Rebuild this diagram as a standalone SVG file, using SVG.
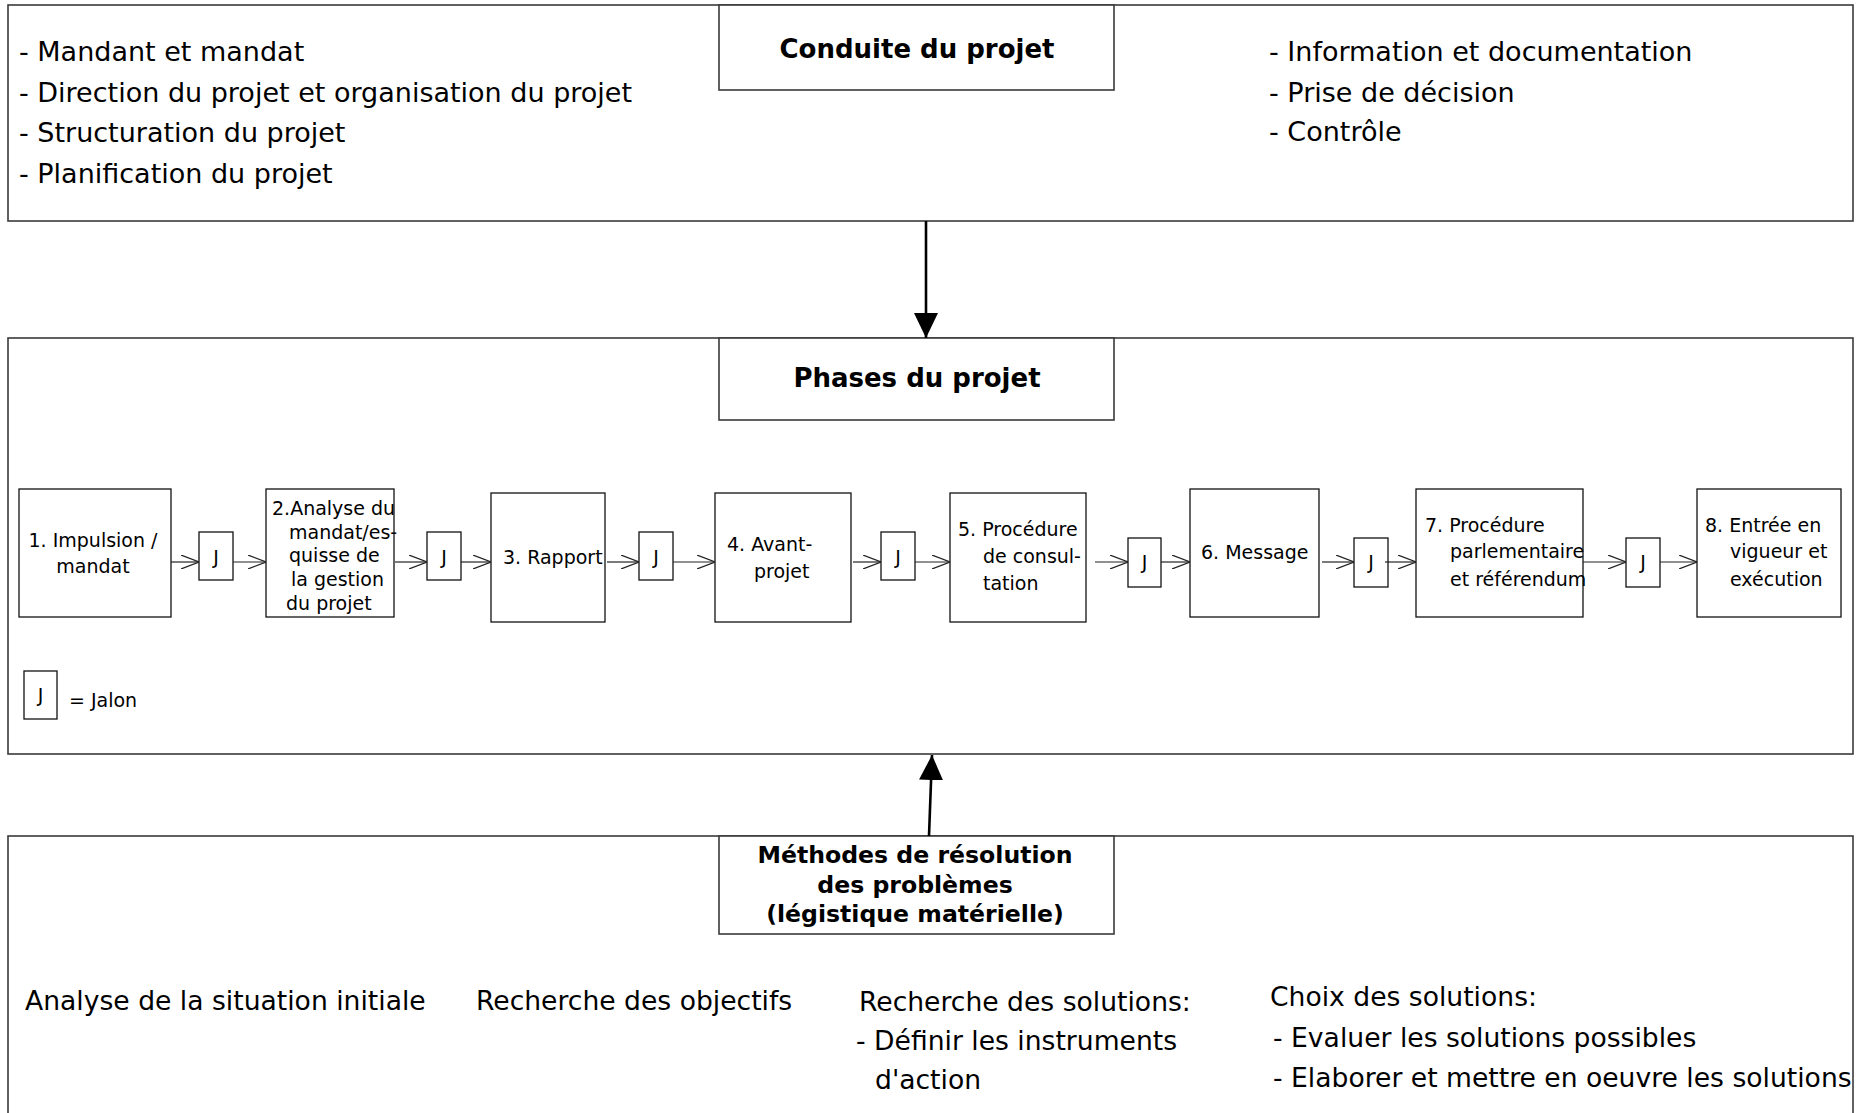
<svg xmlns="http://www.w3.org/2000/svg" width="1865" height="1113" viewBox="0 0 1865 1113">
  <style>
    .frame { fill: #fff; stroke: #3a3a3a; stroke-width: 1.6; }
    .title-box { fill: #fff; stroke: #3a3a3a; stroke-width: 1.6; }
    .phase { fill: #fff; stroke: #111; stroke-width: 1.3; }
    .jalon { fill: #fff; stroke: #111; stroke-width: 1.3; }
    .title { font-family: "DejaVu Sans", Verdana, sans-serif; font-weight: bold; font-size: 26px; fill: #000; text-anchor: middle; }
    .title-sm { font-family: "DejaVu Sans", Verdana, sans-serif; font-weight: bold; font-size: 23.6px; fill: #000; text-anchor: middle; }
    .list { font-family: "DejaVu Sans", Verdana, sans-serif; font-size: 27px; fill: #000; }
    .list-b { font-family: "DejaVu Sans", Verdana, sans-serif; font-size: 26.6px; fill: #000; }
    .ph { font-family: "DejaVu Sans", Verdana, sans-serif; font-size: 19px; fill: #000; }
    .mid { text-anchor: middle; }
    .flow { fill: none; stroke: #222; stroke-width: 1.2; marker-end: url(#chevron); }
    .main { fill: none; stroke: #000; stroke-width: 2.6; marker-end: url(#solid); }
  </style>
  <defs>
    <marker id="chevron" markerUnits="userSpaceOnUse" viewBox="0 0 18 14" refX="18" refY="7" markerWidth="18" markerHeight="14" orient="auto">
      <path d="M0,0 L18,7 L0,14" fill="none" stroke="#222" stroke-width="1.2"/>
    </marker>
    <marker id="solid" markerUnits="userSpaceOnUse" viewBox="0 0 25 24" refX="25" refY="12" markerWidth="25" markerHeight="24" orient="auto">
      <path d="M0,0 L25,12 L0,24 Z" fill="#000"/>
    </marker>
  </defs>

  <rect width="1865" height="1113" fill="#fff"/>

  <!-- Conduite du projet -->
  <g id="conduite">
    <rect class="frame" x="8" y="5" width="1845" height="216"/>
    <rect class="title-box" x="719" y="5" width="395" height="85"/>
    <text class="title" x="917" y="58">Conduite du projet</text>
    <text class="list" x="19" y="61">- Mandant et mandat</text>
    <text class="list" x="19" y="102">- Direction du projet et organisation du projet</text>
    <text class="list" x="19" y="142">- Structuration du projet</text>
    <text class="list" x="19" y="183">- Planification du projet</text>
    <text class="list" x="1269" y="61">- Information et documentation</text>
    <text class="list" x="1269" y="102">- Prise de décision</text>
    <text class="list" x="1269" y="141">- Contrôle</text>
  </g>

  <!-- Phases du projet -->
  <g id="phases">
    <rect class="frame" x="8" y="338" width="1845" height="416"/>
    <rect class="title-box" x="719" y="338" width="395" height="82"/>
    <text class="title" x="917" y="387">Phases du projet</text>
  </g>

  <g id="phase-1">
    <rect class="phase" x="19" y="489" width="152" height="128"/>
    <text class="ph mid" x="93" y="547">1. Impulsion /</text>
    <text class="ph mid" x="93" y="573">mandat</text>
  </g>
  <g id="phase-2">
    <rect class="phase" x="266" y="489" width="128" height="128"/>
    <text class="ph" x="272" y="515">2.Analyse du</text>
    <text class="ph" x="289" y="539">mandat/es-</text>
    <text class="ph" x="289" y="562">quisse de</text>
    <text class="ph" x="291" y="586">la gestion</text>
    <text class="ph" x="286" y="610">du projet</text>
  </g>
  <g id="phase-3">
    <rect class="phase" x="491" y="493" width="114" height="129"/>
    <text class="ph" x="503" y="564">3. Rapport</text>
  </g>
  <g id="phase-4">
    <rect class="phase" x="715" y="493" width="136" height="129"/>
    <text class="ph" x="727" y="551">4. Avant-</text>
    <text class="ph" x="754" y="578">projet</text>
  </g>
  <g id="phase-5">
    <rect class="phase" x="950" y="493" width="136" height="129"/>
    <text class="ph" x="958" y="536">5. Procédure</text>
    <text class="ph" x="983" y="563">de consul-</text>
    <text class="ph" x="983" y="590">tation</text>
  </g>
  <g id="phase-6">
    <rect class="phase" x="1190" y="489" width="129" height="128"/>
    <text class="ph" x="1201" y="559">6. Message</text>
  </g>
  <g id="phase-7">
    <rect class="phase" x="1416" y="489" width="167" height="128"/>
    <text class="ph" x="1425" y="532" font-size="18.5">7. Procédure</text>
    <text class="ph" x="1450" y="558" font-size="18.5">parlementaire</text>
    <text class="ph" x="1450" y="586" font-size="18.5">et référendum</text>
  </g>
  <g id="phase-8">
    <rect class="phase" x="1697" y="489" width="144" height="128"/>
    <text class="ph" x="1705" y="532">8. Entrée en</text>
    <text class="ph" x="1730" y="558">vigueur et</text>
    <text class="ph" x="1730" y="586">exécution</text>
  </g>

  <!-- milestones (J) -->
  <g id="jalon-1"><rect class="jalon" x="199" y="532" width="34" height="48"/><text class="ph mid" x="216" y="564">J</text></g>
  <g id="jalon-2"><rect class="jalon" x="427" y="532" width="34" height="48"/><text class="ph mid" x="444" y="564">J</text></g>
  <g id="jalon-3"><rect class="jalon" x="639" y="532" width="34" height="48"/><text class="ph mid" x="656" y="564">J</text></g>
  <g id="jalon-4"><rect class="jalon" x="881" y="532" width="34" height="48"/><text class="ph mid" x="898" y="564">J</text></g>
  <g id="jalon-5"><rect class="jalon" x="1128" y="538" width="33" height="49"/><text class="ph mid" x="1144.5" y="569">J</text></g>
  <g id="jalon-6"><rect class="jalon" x="1354" y="538" width="34" height="49"/><text class="ph mid" x="1371" y="569">J</text></g>
  <g id="jalon-7"><rect class="jalon" x="1626" y="538" width="34" height="49"/><text class="ph mid" x="1643" y="569">J</text></g>

  <!-- legend -->
  <g id="legend">
    <rect class="jalon" x="24" y="671" width="33" height="48"/>
    <text class="ph mid" x="40.5" y="702">J</text>
    <text class="ph" x="69" y="707" font-size="20.5">= Jalon</text>
  </g>

  <!-- Méthodes de résolution des problèmes -->
  <g id="methodes">
    <rect class="frame" x="8" y="836" width="1845" height="300"/>
    <rect class="title-box" x="719" y="836" width="395" height="98"/>
    <text class="title-sm" x="915" y="863">Méthodes de résolution</text>
    <text class="title-sm" x="915" y="893">des problèmes</text>
    <text class="title-sm" x="915" y="922">(légistique matérielle)</text>
    <text class="list-b" x="25" y="1010">Analyse de la situation initiale</text>
    <text class="list-b" x="476" y="1010">Recherche des objectifs</text>
    <text class="list-b" x="859" y="1011">Recherche des solutions:</text>
    <text class="list-b" x="856" y="1050">- Définir les instruments</text>
    <text class="list-b" x="875" y="1089">d'action</text>
    <text class="list-b" x="1270" y="1006">Choix des solutions:</text>
    <text class="list-b" x="1273" y="1047">- Evaluer les solutions possibles</text>
    <text class="list-b" x="1273" y="1087">- Elaborer et mettre en oeuvre les solutions</text>
  </g>

  <!-- connectors -->
  <g id="connectors">
    <path class="main" d="M926,221 V338"/>
    <path class="main" d="M929,836 L932,755"/>
    <path class="flow" d="M171,562 H199"/>
    <path class="flow" d="M233,562 H266"/>
    <path class="flow" d="M395,562 H427"/>
    <path class="flow" d="M461,562 H491"/>
    <path class="flow" d="M607,562 H639"/>
    <path class="flow" d="M673,562 H715"/>
    <path class="flow" d="M853,562 H881"/>
    <path class="flow" d="M915,562 H950"/>
    <path class="flow" d="M1095,562 H1128"/>
    <path class="flow" d="M1161,562 H1190"/>
    <path class="flow" d="M1322,562 H1354"/>
    <path class="flow" d="M1385,562 H1416"/>
    <path class="flow" d="M1583,562 H1626"/>
    <path class="flow" d="M1660,562 H1697"/>
  </g>
</svg>
